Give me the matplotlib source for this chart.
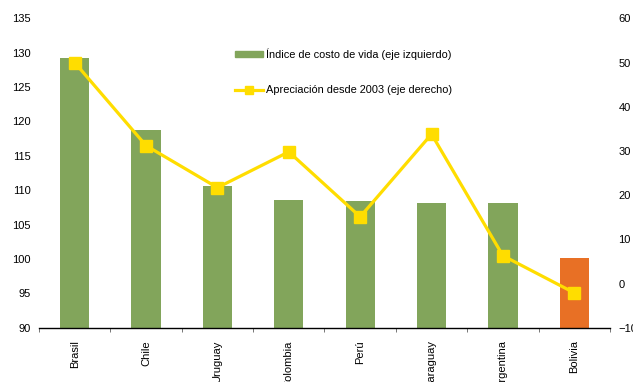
import matplotlib.pyplot as plt
from matplotlib.patches import Patch
from matplotlib.lines import Line2D
import numpy as np

plt.rcParams['font.family'] = ['Liberation Sans', 'DejaVu Sans']

# paises y valores
paises = ['Brasil', 'Chile', 'Uruguay', 'Colombia', 'Perú', 'Paraguay', 'Argentina', 'Bolivia']
costo_vida = [129.3, 118.75, 110.65, 108.6, 108.4, 108.1, 108.1, 100.1]
apreciacion = [50.0, 31.2, 21.7, 29.8, 15.1, 33.8, 6.3, -2.1]

verde = '#82A55B'
naranja = '#E87025'
amarillo = '#FFDD00'
colores = [verde] * 7 + [naranja]

fig = plt.figure(figsize=(6.33, 3.82), dpi=100)
ax = fig.add_axes([0.0616, 0.142, 0.902, 0.810])
ax2 = ax.twinx()

x = np.arange(len(paises))
ax.bar(x, np.array(costo_vida) - 90, 0.41, bottom=90, color=colores, zorder=2)
ax2.plot(x, apreciacion, color=amarillo, lw=2.3, marker='s', ms=8,
         mec=amarillo, mfc=amarillo, zorder=3)

ax.set_xlim(-0.5, 7.5)
ax.set_ylim(90, 135)
ax2.set_ylim(-10, 60)
ax.set_yticks(np.arange(90, 136, 5))
ax2.set_yticks(np.arange(-10, 61, 10))

for a in (ax, ax2):
    for s in ('top', 'left', 'right'):
        a.spines[s].set_visible(False)
    a.spines['bottom'].set_linewidth(1.0)
ax2.spines['bottom'].set_visible(False)

ax.tick_params(axis='y', length=0, labelsize=8, pad=6)
ax2.tick_params(axis='y', length=0, labelsize=8, pad=6)

# etiquetas en el centro, marcas en los bordes de cada categoria
ax.set_xticks(x)
ax.set_xticklabels(paises, rotation=90, fontsize=8)
ax.set_xticks(np.arange(-0.5, 8, 1), minor=True)
ax.tick_params(axis='x', which='major', length=0, pad=9)
ax.tick_params(axis='x', which='minor', length=3, direction='out', color='#606060')

handles = [Patch(color=verde),
           Line2D([], [], color=amarillo, lw=2.3, marker='s', ms=6)]
labels = ['Índice de costo de vida (eje izquierdo)',
          'Apreciación desde 2003 (eje derecho)']
ax2.legend(handles, labels, loc='upper left', bbox_to_anchor=(0.355, 0.90),
           bbox_transform=fig.transFigure, frameon=False, fontsize=7.9,
           handlelength=2.6, handleheight=0.5, labelspacing=2.35, handletextpad=0.3)

plt.savefig('out.png', dpi=100)
